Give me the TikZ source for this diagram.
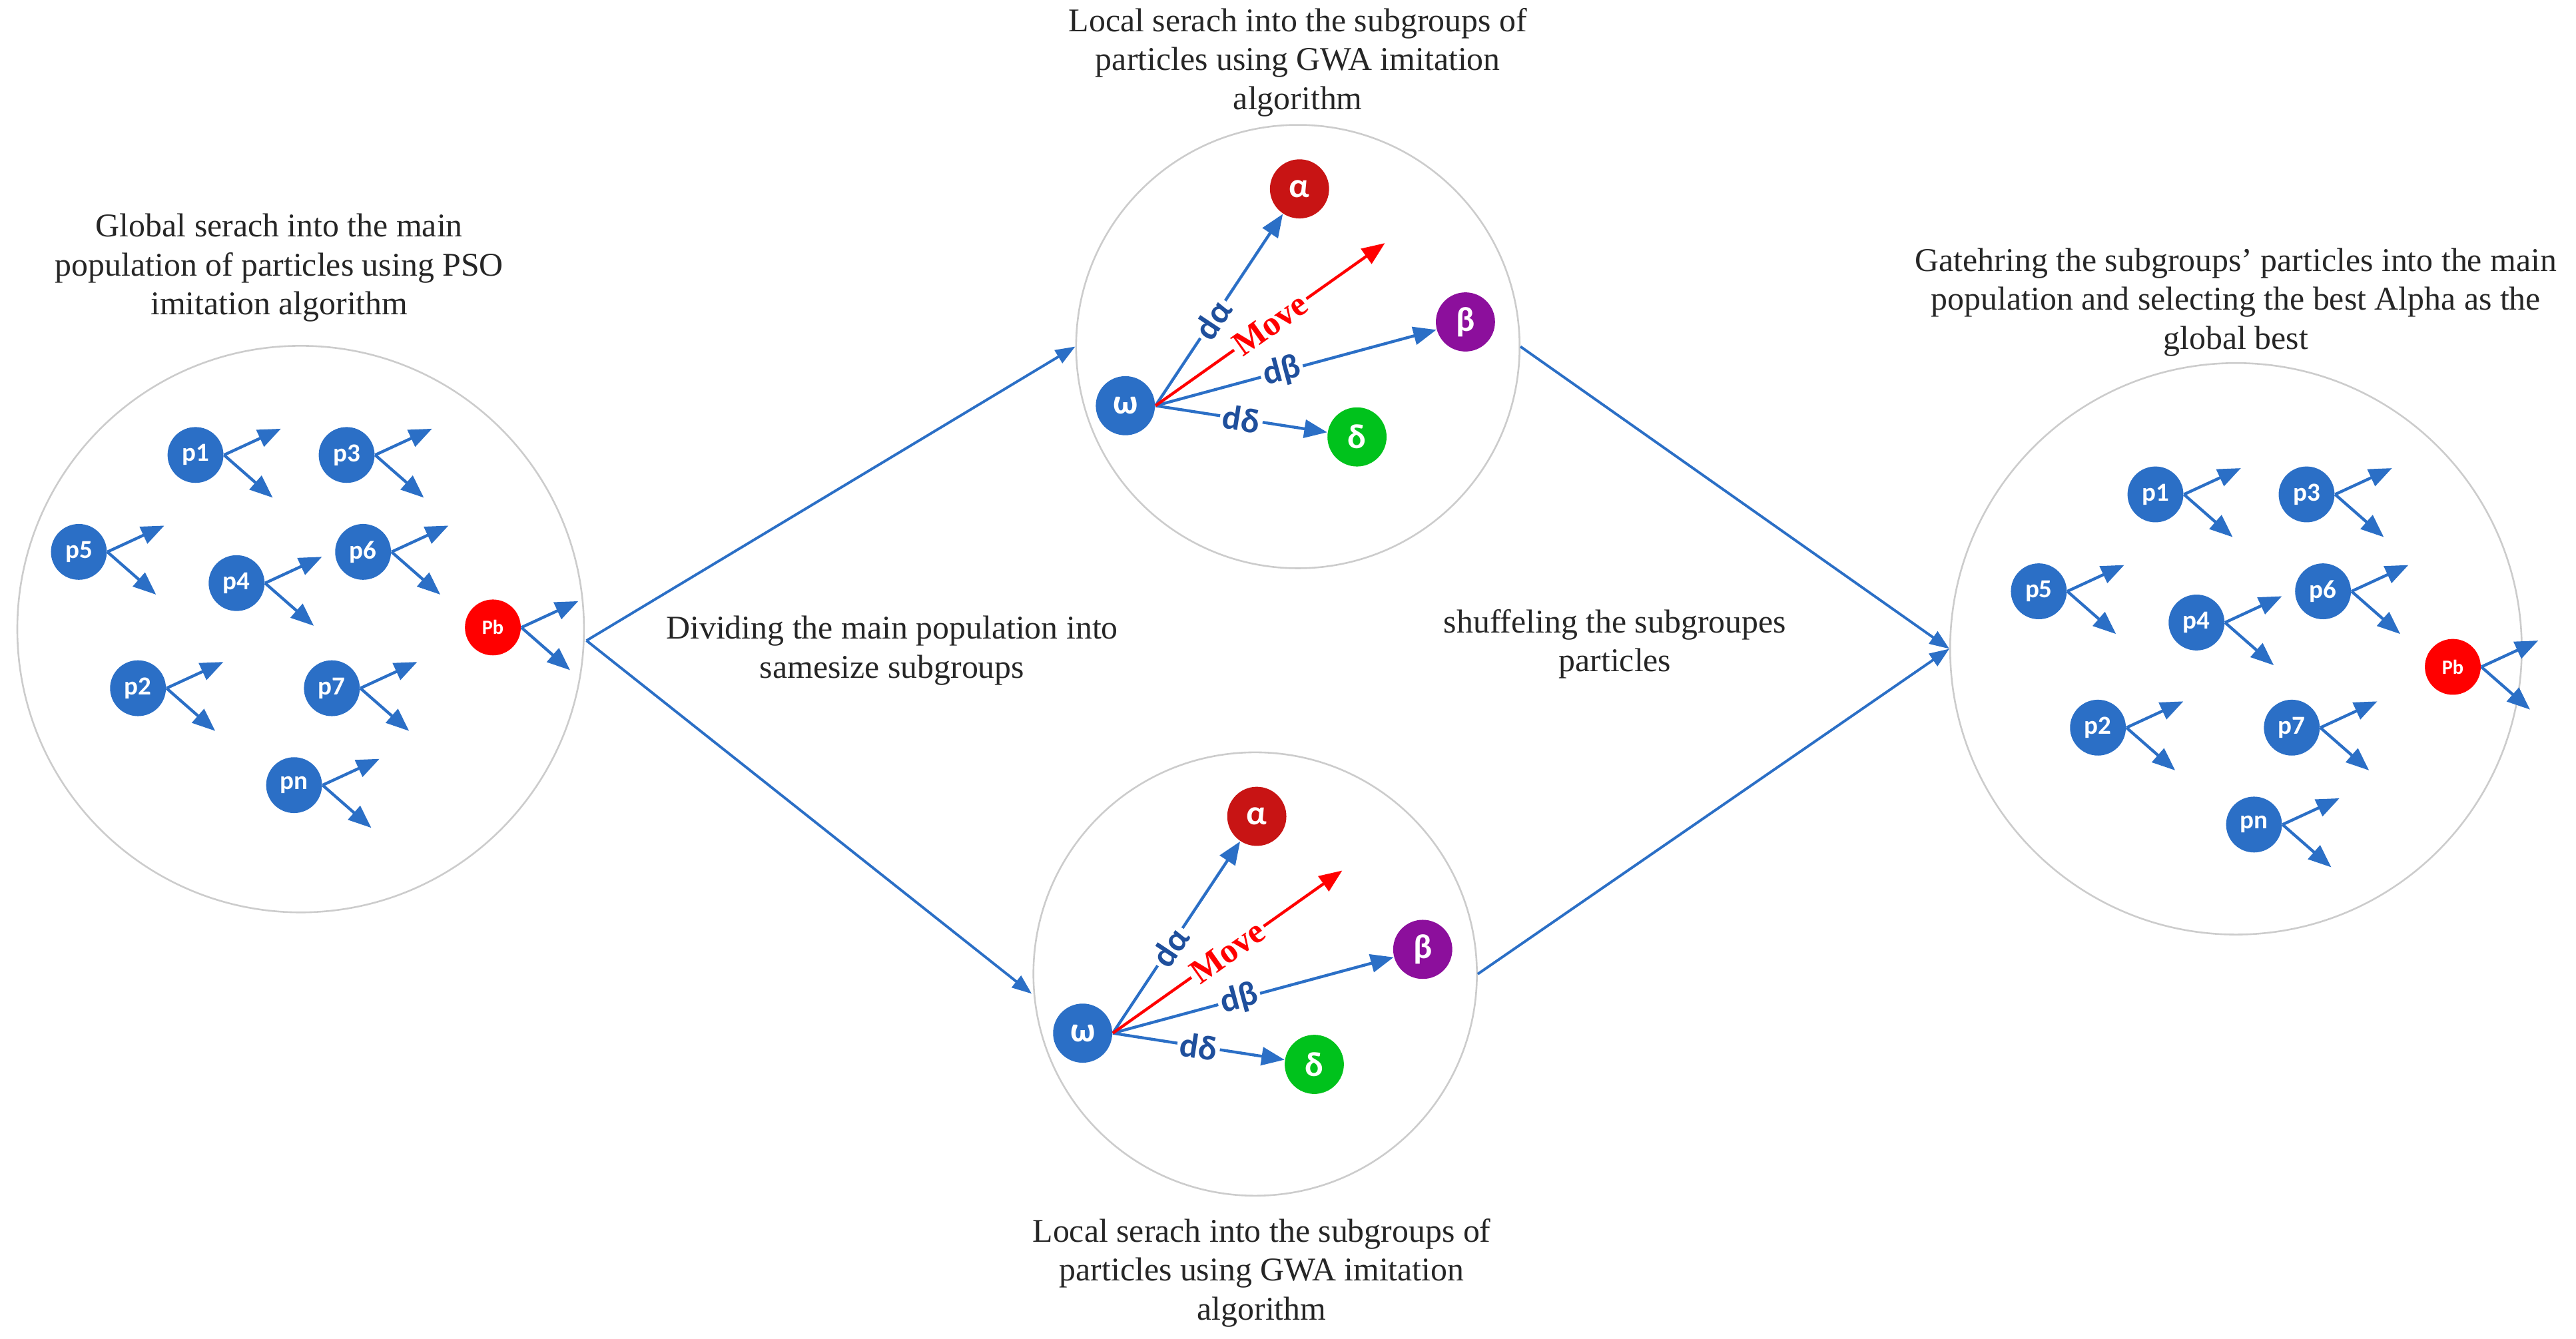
\documentclass[tikz,border=0pt]{standalone}
\usepackage{fontspec}
\setmainfont{Liberation Serif}
\newfontfamily\lblfont{Carlito}
\usetikzlibrary{arrows.meta,calc}
\definecolor{pblue}{HTML}{2B6FC6}
\definecolor{lblue}{HTML}{1F4F9C}
\definecolor{alred}{HTML}{C81414}
\definecolor{bpurp}{HTML}{8C0F9C}
\definecolor{dgreen}{HTML}{00C21C}
\definecolor{ring}{HTML}{CCCCCC}
\begin{document}
\begin{tikzpicture}[x=0.02cm,y=-0.02cm,
  ring/.style={draw=ring,line width=0.6pt,circle,minimum size=#1,inner sep=0},
  part/.style={circle,fill=pblue,text=white,font=\lblfont\bfseries\small,minimum size=0.68cm,inner sep=0},
  partr/.style={part,fill=red,font=\lblfont\bfseries\scriptsize},
  gw/.style={circle,text=white,font=\lblfont\bfseries\large,minimum size=0.72cm,inner sep=0},
  varr/.style={draw=pblue,line width=1pt,-{Triangle[length=2.8mm,width=2.2mm]}},
  big/.style={draw=pblue,line width=0.9pt,-{Triangle[length=2.4mm,width=1.8mm]}},
  dlab/.style={sloped,fill=white,inner sep=1pt,text=lblue,font=\lblfont\bfseries\large},
  captxt/.style={align=center,font=\fontsize{11.5}{13.5}\selectfont,text=black!85}]
\useasboundingbox (0,0) rectangle (1568,815);
% rings
\node[ring=6.9cm] (LC) at (183,383) {};
\node[ring=6.96cm] (RC) at (1361,395) {};
\node[ring=5.4cm] (TC) at (790,211) {};
\node[ring=5.4cm] (BC) at (764,593) {};
% particles
\foreach \s/\dx/\dy in {L/0/0,R/1193/24}{
  \foreach \n/\x/\y in {p1/119/277,p3/211/277,p5/48/336,p4/144/355,p6/221/336,p2/84/419,p7/202/419,pn/179/478}{
    \node[part] (\s\n) at (\x+\dx,\y+\dy) {\n};
    \coordinate (\s\n u) at ($(\s\n)+(52,-16)$);
    \coordinate (\s\n d) at ($(\s\n)+(47,26)$);
    \draw[varr] (\s\n.east) -- (\s\n u);
    \draw[varr] (\s\n.east) -- (\s\n d);
  }
  \node[partr] (\s Pb) at (300+\dx,382+\dy) {Pb};
  \coordinate (\s Pbu) at ($(\s Pb)+(52,-16)$);
  \coordinate (\s Pbd) at ($(\s Pb)+(47,26)$);
  \draw[varr] (\s Pb.east) -- (\s Pbu);
  \draw[varr] (\s Pb.east) -- (\s Pbd);
}
% GWA groups
\foreach \s/\dx/\dy in {T/0/0,B/-26/382}{
  \node[gw,fill=pblue] (\s w) at (685+\dx,247+\dy) {ω};
  \node[gw,fill=alred] (\s a) at (791+\dx,115+\dy) {α};
  \node[gw,fill=bpurp] (\s b) at (892+\dx,196+\dy) {β};
  \node[gw,fill=dgreen] (\s d) at (826+\dx,266+\dy) {δ};
  \coordinate (\s m) at (843+\dx,148+\dy);
  \draw[varr] (\s w.east) -- node[dlab,pos=0.45] {dα} (\s a);
  \draw[varr] (\s w.east) -- node[dlab,pos=0.45] {dβ} (\s b);
  \draw[varr] (\s w.east) -- node[dlab,pos=0.5] {dδ} (\s d);
  \draw[draw=red,line width=1pt,-{Triangle[length=2.8mm,width=2.2mm]}] (\s w.east) -- node[sloped,fill=white,inner sep=1pt,text=red,font=\bfseries\large,pos=0.5] {Move} (\s m);
}
% big connectors
\coordinate (o1) at (357,390);
\coordinate (bin) at (628,605);
\draw[big] (o1) -- (TC.west);
\draw[big] (o1) -- (bin);
\draw[big] (TC.east) -- (RC.west);
\draw[big] (BC.east) -- (RC.west);
% captions
\node[captxt] (c1) at (170,163) {Global serach into the main\\population of particles using PSO\\imitation algorithm};
\node[captxt] (c2) at (790,38) {Local serach into the subgroups of\\particles using GWA imitation\\algorithm};
\node[captxt] (c3) at (768,775) {Local serach into the subgroups of\\particles using GWA imitation\\algorithm};
\node[captxt] (c4) at (1361,184) {Gatehring the subgroups' particles into the main\\population and selecting the best Alpha as the\\global best};
\node[captxt] (c5) at (543,396) {Dividing the main population into\\samesize subgroups};
\node[captxt] (c6) at (983,392) {shuffeling the subgroupes\\particles};
\end{tikzpicture}
\end{document}
